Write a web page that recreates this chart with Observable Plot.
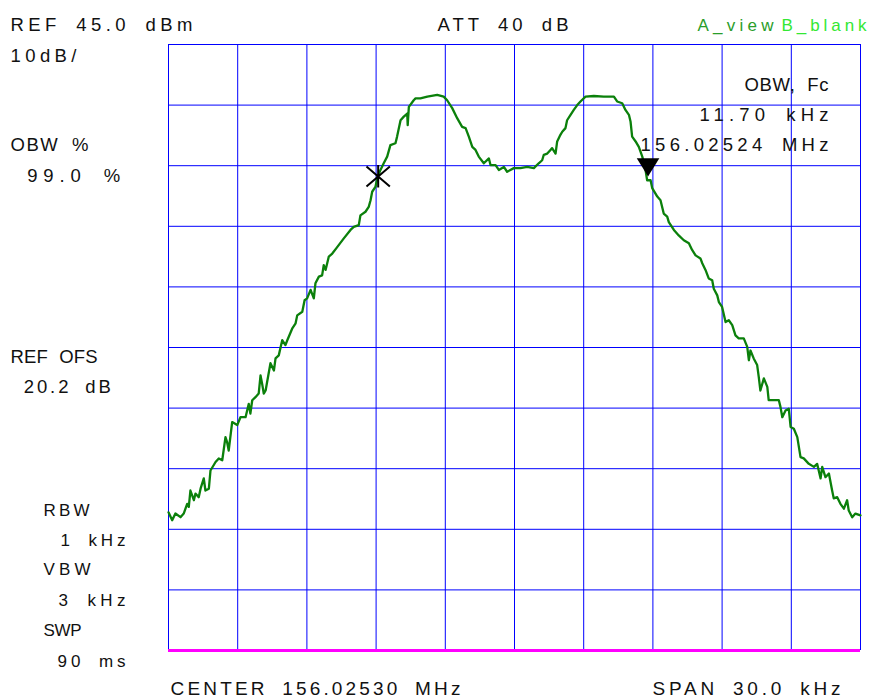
<!DOCTYPE html>
<html>
<head>
<meta charset="utf-8">
<script src="https://cdn.jsdelivr.net/npm/d3@7"></script>
<script src="https://cdn.jsdelivr.net/npm/@observablehq/plot@0.6"></script>
<style>
  html, body { margin: 0; padding: 0; background: #fff; overflow: hidden; }
  svg { display: block; }
</style>
</head>
<body>
<script>
// ---- instrument settings ----
const refLevelDBm = 45.0;
const dbPerDiv = 10;
const divisions = 10;
const centerMHz = 156.02530;
const spanKHz = 30.0;
const obwKHz = 11.70;
const fcMHz = 156.02524;
const markerLevelDBm = 23.2;

// ---- grid ----
const gridFreqKHz = [-15, -12, -9, -6, -3, 0, 3, 6, 9, 12, 15];
const gridLevelDBm = [45, 35, 25, 15, 5, -5, -15, -25, -35, -45, -55];

// ---- trace (offset from center, kHz / level, dBm) ----
const freqKHz = [
-15.00,-14.84,-14.70,-14.48,-14.34,-14.19,-14.12,-14.05,-13.90,-13.83,
-13.69,-13.61,-13.47,-13.40,-13.25,-13.18,-12.96,-12.82,-12.67,-12.53,
-12.46,-12.39,-12.24,-12.02,-11.88,-11.66,-11.59,-11.52,-11.45,-11.37,
-11.23,-11.09,-11.01,-10.94,-10.87,-10.79,-10.58,-10.43,-10.36,-10.22,
-10.07,-9.93,-9.85,-9.64,-9.49,-9.42,-9.20,-9.10,-8.99,-8.84,
-8.70,-8.63,-8.48,-8.34,-8.27,-8.19,-8.05,-7.90,-7.72,-7.40,
-7.11,-6.97,-6.75,-6.68,-6.46,-6.32,-6.24,-6.17,-6.03,-5.95,
-5.81,-5.67,-5.52,-5.38,-5.16,-5.09,-4.94,-4.80,-4.65,-4.63,
-4.58,-4.37,-4.29,-4.08,-3.78,-3.35,-3.07,-2.92,-2.70,-2.48,
-2.27,-2.12,-1.98,-1.83,-1.69,-1.55,-1.33,-1.11,-1.04,-0.82,
-0.68,-0.46,-0.32,-0.03,0.26,0.55,0.84,1.05,1.20,1.27,
1.42,1.56,1.63,1.78,1.85,1.99,2.07,2.21,2.28,2.43,
2.57,2.72,2.86,3.08,3.44,3.87,4.31,4.45,4.67,4.81,
4.96,5.03,5.10,5.25,5.39,5.54,5.68,5.75,5.90,5.97,
6.19,6.33,6.47,6.62,6.69,6.91,7.12,7.34,7.56,7.70,
7.85,8.06,8.14,8.28,8.42,8.57,8.64,8.79,8.86,9.00,
9.15,9.29,9.44,9.58,9.72,9.94,10.09,10.16,10.23,10.37,
10.52,10.59,10.66,10.81,10.96,11.02,11.24,11.46,11.53,11.61,
11.75,11.89,11.97,12.11,12.26,12.40,12.54,12.76,12.98,13.12,
13.27,13.34,13.48,13.63,13.77,13.84,13.99,14.13,14.28,14.42,
14.49,14.64,14.78,15.00
];
const levelDBm = [
-32.2,-33.5,-32.4,-33.0,-32.4,-30.8,-31.3,-28.6,-30.2,-29.1,
-29.7,-28.3,-26.6,-28.6,-28.3,-25.3,-23.9,-23.3,-23.6,-19.8,
-20.6,-22.0,-17.3,-17.8,-16.5,-16.5,-15.4,-14.3,-15.9,-13.7,
-13.2,-12.6,-9.6,-11.0,-12.6,-12.1,-7.6,-8.8,-6.8,-6.3,
-3.8,-4.6,-3.8,-1.9,-1.0,0.3,0.9,2.8,3.1,4.5,
3.1,5.6,6.7,6.9,8.6,7.8,10.0,10.5,11.4,13.0,
14.4,14.9,15.2,16.8,17.4,18.2,19.3,20.7,21.5,22.9,
24.3,25.4,26.5,28.4,28.7,29.8,32.5,33.1,33.6,31.7,
34.7,35.8,36.1,36.1,36.4,36.7,36.4,35.8,34.5,32.8,
31.4,31.2,29.8,28.1,27.6,26.5,25.4,26.2,25.1,25.1,
24.3,24.8,24.0,24.6,24.6,24.8,24.6,25.4,25.9,26.8,
27.0,27.6,27.9,27.0,29.0,30.1,30.6,31.2,32.5,33.4,
34.2,35.0,35.6,36.4,36.5,36.4,36.4,35.6,35.3,34.2,
33.4,32.3,29.8,29.0,28.1,26.5,24.3,22.6,22.6,21.3,
19.9,19.3,17.1,16.6,15.7,14.4,13.5,12.7,12.2,11.1,
10.2,9.7,8.9,7.8,6.4,6.1,4.7,3.6,2.5,1.7,
-0.8,-0.5,-1.3,-3.0,-3.5,-3.5,-4.9,-7.1,-5.5,-6.8,
-7.9,-9.9,-12.1,-10.1,-11.5,-13.7,-13.7,-13.7,-14.8,-16.5,
-15.4,-15.1,-18.1,-18.4,-19.8,-23.1,-23.3,-24.2,-24.7,-24.2,
-26.6,-24.7,-26.4,-25.8,-28.6,-29.9,-29.7,-30.8,-31.6,-30.2,
-31.9,-33.0,-32.4,-32.7
];

// ---- annotation texts ----
const labelTexts = [
  "REF 45.0 dBm", "10dB/", "ATT 40 dB", "A_view", "B_blank",
  "OBW %", "99.0 %", "REF OFS", "20.2 dB",
  "RBW", "1 kHz", "VBW", "3 kHz", "SWP", "90 ms",
  "OBW, Fc", "11.70 kHz", "156.02524 MHz",
  "CENTER 156.02530 MHz", "SPAN 30.0 kHz"
];

// ---- layout (pixels) ----
const W = 869, H = 698;
const ML = 168, MR = 9, MT = 44, MB = 48;
const INK = "#111";
const labelLayout = [
  {x: 10,  y: 30,    w: 182, size: 18.5},
  {x: 10,  y: 61,    w: 66,  size: 18.5},
  {x: 437, y: 30,    w: 131, size: 18.5},
  {x: 697, y: 30,    w: 76,  size: 17, fill: "#2a9d2a"},
  {x: 781, y: 30,    w: 85,  size: 17, fill: "#33e833"},
  {x: 10,  y: 150.7, w: 78,  size: 18.5},
  {x: 26.7,y: 181.7, w: 93,  size: 18.5},
  {x: 10,  y: 362.3, w: 87,  size: 18.5},
  {x: 23.3,y: 392.3, w: 87,  size: 18.5},
  {x: 43,  y: 515,   w: 46,  size: 17},
  {x: 60,  y: 545,   w: 65,  size: 17},
  {x: 43,  y: 574.3, w: 47,  size: 17},
  {x: 58,  y: 605,   w: 67,  size: 17},
  {x: 43,  y: 635,   w: 38,  size: 17},
  {x: 57,  y: 666.7, w: 68,  size: 17},
  {x: 744, y: 90.7,  w: 84,  size: 18.5},
  {x: 699, y: 120,   w: 129, size: 18.5},
  {x: 640, y: 150,   w: 188, size: 18.5},
  {x: 170, y: 694,   w: 290, size: 19},
  {x: 652, y: 694,   w: 188, size: 19}
];

const trace = freqKHz.map((f, i) => ({f, l: levelDBm[i]}));
const fcOffsetKHz = (fcMHz - centerMHz) * 1000;
const obwMarkers = [
  {f: fcOffsetKHz - obwKHz / 2, l: markerLevelDBm},
  {f: fcOffsetKHz + obwKHz / 2, l: markerLevelDBm}
];

// custom marker symbols
const asteriskSymbol = {
  draw(ctx) {
    ctx.moveTo(-11.7, -10); ctx.lineTo(11.7, 10);
    ctx.moveTo(-11.7, 10); ctx.lineTo(11.7, -10);
    ctx.moveTo(0, -11.5); ctx.lineTo(0, 11);
  }
};
const downTriangleSymbol = {
  draw(ctx) {
    ctx.moveTo(0, 0); ctx.lineTo(-11.3, -18.4); ctx.lineTo(11.3, -18.4); ctx.closePath();
  }
};

const textMarks = labelTexts.map((t, i) => {
  const L = labelLayout[i];
  return Plot.text([t], {
    text: d => d,
    frameAnchor: "top-left",
    dx: L.x - ML,
    dy: L.y - MT,
    textAnchor: "start",
    lineAnchor: "bottom",
    fontSize: L.size,
    fill: L.fill || INK
  });
});

const chart = Plot.plot({
  width: W,
  height: H,
  marginLeft: ML,
  marginRight: MR,
  marginTop: MT,
  marginBottom: MB,
  x: {domain: [-spanKHz / 2, spanKHz / 2], axis: null},
  y: {domain: [refLevelDBm - dbPerDiv * divisions, refLevelDBm], axis: null},
  style: {background: "#fff", fontFamily: "'Liberation Sans', Arial, sans-serif", overflow: "visible"},
  marks: [
    Plot.ruleX(gridFreqKHz, {stroke: "#0000ff", strokeWidth: 1}),
    Plot.ruleY(gridLevelDBm, {stroke: "#0000ff", strokeWidth: 1}),
    Plot.ruleY([refLevelDBm - dbPerDiv * divisions], {stroke: "#ff00ff", strokeWidth: 3}),
    Plot.line(trace, {x: "f", y: "l", stroke: "#0b800b", strokeWidth: 2.3, strokeLinejoin: "round"}),
    Plot.dot(obwMarkers.slice(0, 1), {x: "f", y: "l", symbol: asteriskSymbol, r: 12, stroke: "#000", fill: "none", strokeWidth: 2}),
    Plot.dot(obwMarkers.slice(1), {x: "f", y: "l", symbol: downTriangleSymbol, r: 12, fill: "#000", stroke: "none"}),
    ...textMarks
  ]
});

document.body.appendChild(chart);

// spread letters to match the instrument's character cells
chart.querySelectorAll('g[aria-label="text"]').forEach((g, i) => {
  const t = g.querySelector("text");
  const L = labelLayout[i];
  if (!t || !L) return;
  t.style.wordSpacing = "6px";
  t.style.letterSpacing = "0px";
  const len = t.getComputedTextLength();
  const n = labelTexts[i].length;
  const ls = n > 1 ? (L.w - len) / (n - 1) : 0;
  t.style.letterSpacing = ls.toFixed(2) + "px";
});
</script>
</body>
</html>
